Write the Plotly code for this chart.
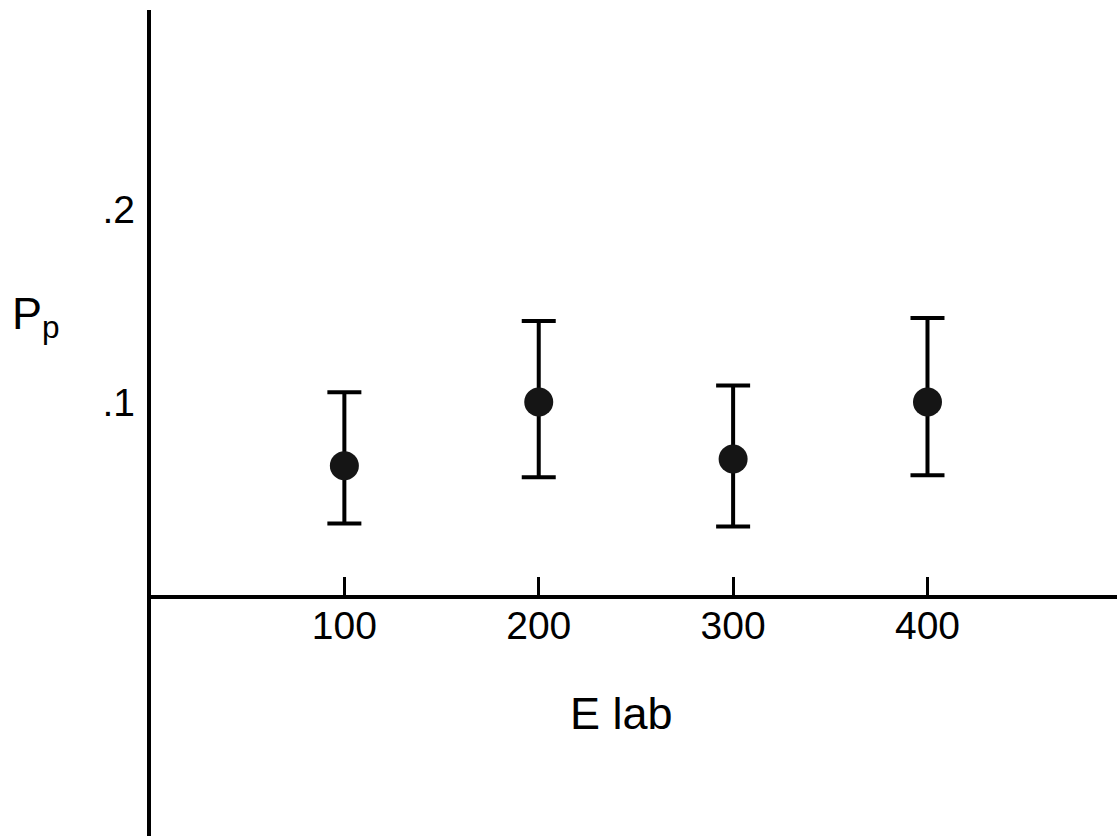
import plotly.graph_objects as go

# Data
energy = [100, 200, 300, 400]
pp = [0.067, 0.100, 0.0705, 0.100]
err_plus = [0.038, 0.042, 0.038, 0.0435]
err_minus = [0.030, 0.039, 0.035, 0.038]

x_ticks = [100, 200, 300, 400]
x_ticktext = ["100", "200", "300", "400"]
y_ticks = [0.1, 0.2]
y_ticktext = [".1", ".2"]

W, H = 1117, 836
L, B = 150, 241
PW, PH = W - L, H - B

def px(x):
    return (x - L) / PW

def py(y):
    return (H - B - y) / PH

FONT = "Liberation Sans"

fig = go.Figure()
fig.add_trace(go.Scatter(
    x=energy, y=pp, mode="markers",
    marker=dict(size=29, color="#151515", line=dict(width=0)),
    error_y=dict(type="data", symmetric=False, array=err_plus, arrayminus=err_minus,
                 color="black", thickness=4, width=17),
    showlegend=False, cliponaxis=False,
))

fig.update_layout(
    width=W, height=H,
    margin=dict(l=L, r=0, t=0, b=B),
    paper_bgcolor="white", plot_bgcolor="white",
    xaxis=dict(range=[0, 497.5], tickvals=x_ticks, ticktext=x_ticktext, automargin=False,
               showgrid=False, zeroline=False, showline=True, linecolor="black", linewidth=4,
               ticks="inside", ticklen=18, tickwidth=3, tickcolor="black",
               tickfont=dict(family=FONT, size=39, color="black"), ticklabelstandoff=-7),
    yaxis=dict(range=[0, 0.3083], tickvals=y_ticks, ticktext=y_ticktext, automargin=False,
               showgrid=False, zeroline=False, showline=False, ticks="",
               tickfont=dict(family=FONT, size=39, color="black"), ticklabelstandoff=14),
    shapes=[dict(type="line", xref="paper", yref="paper", x0=px(149), x1=px(149),
                 y0=py(836), y1=py(10), line=dict(color="black", width=4))],
    annotations=[
        dict(text="P<sub>p</sub>", xref="paper", yref="paper", x=px(10), y=py(286),
             xanchor="left", yanchor="top", showarrow=False,
             font=dict(family=FONT, size=45, color="black")),
        dict(text="E lab", xref="paper", yref="paper", x=px(621), y=py(713),
             xanchor="center", yanchor="middle", showarrow=False,
             font=dict(family=FONT, size=45, color="black")),
    ],
)

fig.write_html("out.html", config={"displayModeBar": False},
               post_script="document.body.style.margin='0';")
